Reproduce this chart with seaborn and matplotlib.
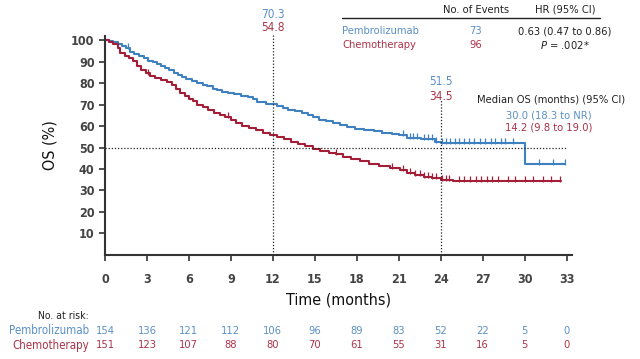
import numpy as np
import pandas as pd
import matplotlib.pyplot as plt
import seaborn as sns

sns.set_style("ticks")
plt.rcParams["font.family"] = ["DejaVu Sans"]
plt.rcParams["font.stretch"] = "condensed"

BLUE = "#3f80c0"
RED = "#a51e38"
BLUE_TXT = "#5a90c6"
RED_TXT = "#ab3349"
DARK = "#333333"

# Pembrolizumab KM steps (month, OS %)
pem_t = [0, 0.3, 0.6, 0.9, 1.2, 1.5, 1.8, 2.1, 2.4, 2.8, 3.1, 3.4, 3.7, 4.0, 4.3,
         4.6, 4.9, 5.2, 5.5, 5.8, 6.2, 6.6, 7.0, 7.3, 7.7, 8.0, 8.4, 8.8, 9.2,
         9.7, 10.2, 10.6, 10.9, 11.5, 12.3, 12.7, 13.1, 13.6, 14.1, 14.5, 14.9,
         15.3, 15.8, 16.3, 16.8, 17.3, 17.9, 18.5, 19.2, 19.8, 20.5, 21.0, 21.6,
         22.6, 23.6, 24.0, 30.0, 32.9]
pem_s = [100, 99.5, 99, 98.3, 97.5, 96.5, 94.5, 93.5, 92.8, 91.5, 90.5, 89.8, 89,
         88, 87, 86, 84.8, 84, 83, 81.8, 80.8, 80.2, 79.3, 78.5, 77.5, 76.8, 76,
         75.4, 74.8, 74.2, 73.6, 72.8, 71, 70.4, 69.5, 68.4, 67.7, 67.0, 66.2,
         65.0, 64.0, 63.0, 62.3, 61.3, 60.3, 59.6, 58.8, 58.3, 57.6, 56.9, 56.4,
         55.8, 54.6, 53.8, 52.8, 52.2, 42.2, 42.2]
pem_cens = [1.65, 21.3, 21.8, 22.0, 22.3, 22.8, 23.1, 23.4, 23.7, 24.1, 24.4, 24.7,
            25.0, 25.3, 25.7, 26.0, 26.4, 26.8, 27.2, 27.6, 27.9, 28.3, 28.6, 29.2,
            31.0, 32.0, 32.9]

# Chemotherapy KM steps
chemo_t = [0, 0.3, 0.6, 0.9, 1.1, 1.4, 1.7, 2.0, 2.3, 2.6, 2.9, 3.2, 3.6, 4.0,
           4.4, 4.8, 5.1, 5.4, 5.7, 6.0, 6.3, 6.6, 7.0, 7.4, 7.8, 8.2, 8.6, 9.0,
           9.4, 9.8, 10.3, 10.8, 11.3, 11.8, 12.3, 12.8, 13.3, 13.8, 14.3, 14.9,
           15.4, 16.0, 16.5, 17.0, 17.6, 18.2, 18.9, 19.6, 20.4, 21.1, 21.6, 22.2,
           22.8, 23.4, 24.0, 24.9, 32.6]
chemo_s = [100, 99.2, 98.3, 96.5, 94, 92.5, 91.5, 90.3, 88, 86, 84.5, 83.5, 82.3,
           81.6, 80.5, 79, 77.5, 75.5, 74, 72.8, 71.5, 70, 68.7, 67.3, 66, 65,
           64.1, 62.8, 61.5, 60.0, 59.0, 58.0, 57.0, 55.8, 54.8, 53.8, 52.5, 51.6,
           50.8, 49.5, 48.6, 47.6, 46.8, 45.8, 44.6, 43.6, 42.5, 41.3, 40.4, 39.7,
           38.3, 37.3, 36.5, 35.7, 35.0, 34.5, 34.5]
chemo_cens = [3.1, 8.8, 16.5, 20.5, 21.3, 21.8, 22.2, 22.5, 22.8, 23.1, 23.4, 23.7,
              24.1, 24.4, 24.6, 25.3, 25.7, 26.1, 26.5, 26.9, 27.3, 27.7, 28.1, 28.8,
              29.3, 30.0, 30.6, 31.3, 31.9, 32.5]

risk_months = [0, 3, 6, 9, 12, 15, 18, 21, 24, 27, 30, 33]
pem_risk = [154, 136, 121, 112, 106, 96, 89, 83, 52, 22, 5, 0]
chemo_risk = [151, 123, 107, 88, 80, 70, 61, 55, 31, 16, 5, 0]


def at(times, surv, c):
    i = np.searchsorted(times, c, side="right") - 1
    return np.asarray(surv)[i]


fig = plt.figure(figsize=(6.4, 3.59), dpi=100)
ax = fig.add_axes([0.164, 0.29, 0.73, 0.61])

for t, s, cens, col in [(pem_t, pem_s, pem_cens, BLUE), (chemo_t, chemo_s, chemo_cens, RED)]:
    sns.lineplot(x=t, y=s, drawstyle="steps-post", color=col, lw=1.5, ax=ax,
                 errorbar=None, estimator=None, sort=False)
    cy = [at(t, s, c) + 0.9 for c in cens]
    ax.scatter(cens, cy, marker="|", s=22, color=col, linewidths=0.9, zorder=3)

dot = (0, (1, 1.5))
ax.axhline(50, xmin=0, xmax=33 / 33.4, color="#222222", lw=0.9, ls=dot)
ax.plot([12, 12], [0, 102.5], color="#222222", lw=0.9, ls=dot, clip_on=False)
ax.plot([24, 24], [0, 72], color="#222222", lw=0.9, ls=dot, clip_on=False)

ax.set_xlim(0, 33.4)
ax.set_ylim(0, 102)
ax.set_xticks(range(0, 34, 3))
ax.set_yticks(range(10, 101, 10))
ax.tick_params(colors=DARK, labelsize=9, width=1.2, length=4)
for lab in ax.get_xticklabels() + ax.get_yticklabels():
    lab.set_fontweight("bold")
    lab.set_color("#444444")
ax.tick_params(axis="x", pad=9)
for sp in ["top", "right"]:
    ax.spines[sp].set_visible(False)
for sp in ["left", "bottom"]:
    ax.spines[sp].set_color(DARK)
    ax.spines[sp].set_linewidth(1.5)
ax.set_xlabel("Time (months)", fontsize=11.5, color="#111111", labelpad=5)
ax.set_ylabel("OS (%)", fontsize=11.5, color="#111111", labelpad=10)

# milestone labels
ax.text(12, 111.8, "70.3", color=BLUE_TXT, ha="center", va="center", fontsize=8.5, clip_on=False)
ax.text(12, 105.7, "54.8", color=RED_TXT, ha="center", va="center", fontsize=8.5, clip_on=False)
ax.text(24, 80.6, "51.5", color=BLUE_TXT, ha="center", va="center", fontsize=8.5)
ax.text(24, 73.6, "34.5", color=RED_TXT, ha="center", va="center", fontsize=8.5)


# figure-pixel helpers for the side tables
def fx(px):
    return px / 640


def fy(py):
    return 1 - py / 359


# median OS block
fig.text(fx(625), fy(100), "Median OS (months) (95% CI)", ha="right", va="center", fontsize=8, color="#222222")
fig.text(fx(549), fy(115), "30.0 (18.3 to NR)", ha="center", va="center", fontsize=8, color=BLUE_TXT)
fig.text(fx(549), fy(128), "14.2 (9.8 to 19.0)", ha="center", va="center", fontsize=8, color=RED_TXT)

# events/HR table
fig.add_artist(plt.Line2D([fx(342), fx(600)], [fy(18), fy(18)], color="#222222", lw=1.0))
fig.text(fx(476), fy(10), "No. of Events", ha="center", va="center", fontsize=8, color="#222222")
fig.text(fx(565), fy(10), "HR (95% CI)", ha="center", va="center", fontsize=8, color="#222222")
fig.text(fx(342), fy(31), "Pembrolizumab", ha="left", va="center", fontsize=8, color=BLUE_TXT)
fig.text(fx(342), fy(45), "Chemotherapy", ha="left", va="center", fontsize=8, color=RED_TXT)
fig.text(fx(476), fy(31), "73", ha="center", va="center", fontsize=8, color=BLUE_TXT)
fig.text(fx(476), fy(45), "96", ha="center", va="center", fontsize=8, color=RED_TXT)
fig.text(fx(565), fy(31), "0.63 (0.47 to 0.86)", ha="center", va="center", fontsize=8, color="#222222")
fig.text(fx(565), fy(45), "$\\it{P}$ = .002*", ha="center", va="center", fontsize=8, color="#222222")

# number at risk
fig.text(fx(89), fy(316), "No. at risk:", ha="right", va="center", fontsize=7.5, color="#222222")
fig.text(fx(89), fy(331), "Pembrolizumab", ha="right", va="center", fontsize=8.3, color=BLUE_TXT)
fig.text(fx(89), fy(345), "Chemotherapy", ha="right", va="center", fontsize=8.3, color=RED_TXT)
for m, p, c in zip(risk_months, pem_risk, chemo_risk):
    xf = ax.transData.transform((m, 0))[0] / fig.bbox.width
    fig.text(xf, fy(331), str(p), ha="center", va="center", fontsize=8, color=BLUE_TXT)
    fig.text(xf, fy(345), str(c), ha="center", va="center", fontsize=8, color=RED_TXT)

fig.savefig("out.png", dpi=100)
